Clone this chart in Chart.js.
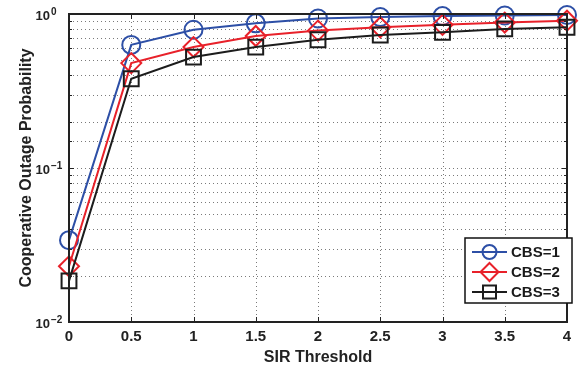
<!DOCTYPE html>
<html>
<head>
<meta charset="utf-8">
<script src="https://cdn.jsdelivr.net/npm/chart.js@4.4.1/dist/chart.umd.min.js"></script>
<style>
body { margin: 0; background: #fff; }
#wrap { width: 580px; height: 370px; }
</style>
</head>
<body>
<div id="wrap"><canvas id="myChart" width="580" height="370"></canvas></div>
<script>
// x axis: SIR threshold
const sirThreshold = [0, 0.5, 1, 1.5, 2, 2.5, 3, 3.5, 4];
// outage probability per number of cooperating BS
const cbs1 = [0.034, 0.63, 0.79, 0.87, 0.935, 0.955, 0.97, 0.978, 0.985];
const cbs2 = [0.023, 0.48, 0.61, 0.72, 0.78, 0.82, 0.85, 0.88, 0.905];
const cbs3 = [0.0185, 0.38, 0.525, 0.61, 0.68, 0.73, 0.76, 0.80, 0.82];
const seriesNames = ['CBS=1', 'CBS=2', 'CBS=3'];
// y axis decade labels
const yDecades = [0.01, 0.1, 1];
const yExponents = ['\u22122', '\u22121', '0'];

const FONT = '"Liberation Sans", Arial, Helvetica, sans-serif';
const blue = '#2d4fa6';
const red = '#e8212a';
const black = '#1c1c1c';

function pts(ys) {
    return sirThreshold.map(function(x, i){ return {x: x, y: ys[i]}; });
}

// dotted grid, drawn under the lines
const dottedGrid = {
    id: 'dottedGrid',
    beforeDatasetsDraw: function(chart){
        const ctx = chart.ctx;
        const a = chart.chartArea;
        const xs = chart.scales.x;
        const ys = chart.scales.y;
        ctx.save();
        ctx.strokeStyle = '#7a7a7a';
        ctx.lineWidth = 1;
        ctx.setLineDash([1, 3]);
        ctx.beginPath();
        xs.ticks.forEach(function(t){
            const px = Math.round(xs.getPixelForValue(t.value)) + 0.5;
            ctx.moveTo(px, a.top); ctx.lineTo(px, a.bottom);
        });
        ys.ticks.forEach(function(t){
            const py = Math.round(ys.getPixelForValue(t.value)) + 0.5;
            ctx.moveTo(a.left, py); ctx.lineTo(a.right, py);
        });
        ctx.stroke();
        ctx.restore();
    }
};

// box, inward ticks, y labels with exponents, legend
const matlabBits = {
    id: 'matlabBits',
    afterDraw: function(chart){
        const ctx = chart.ctx;
        const a = chart.chartArea;
        const xs = chart.scales.x;
        const ys = chart.scales.y;
        ctx.save();
        ctx.strokeStyle = '#222';
        ctx.lineWidth = 1;
        ctx.beginPath();
        sirThreshold.forEach(function(v){
            const px = Math.round(xs.getPixelForValue(v)) + 0.5;
            ctx.moveTo(px, a.bottom); ctx.lineTo(px, a.bottom - 5);
            ctx.moveTo(px, a.top); ctx.lineTo(px, a.top + 5);
        });
        ys.ticks.forEach(function(t){
            const py = Math.round(ys.getPixelForValue(t.value)) + 0.5;
            const len = yDecades.indexOf(t.value) >= 0 ? 5 : 3;
            ctx.moveTo(a.left, py); ctx.lineTo(a.left + len, py);
            ctx.moveTo(a.right, py); ctx.lineTo(a.right - len, py);
        });
        ctx.stroke();
        ctx.lineWidth = 2;
        ctx.strokeRect(a.left, a.top, a.right - a.left, a.bottom - a.top);

        // y tick labels as 10^n
        ctx.fillStyle = '#222';
        ctx.textBaseline = 'alphabetic';
        yDecades.forEach(function(v, i){
            const py = ys.getPixelForValue(v);
            ctx.font = 'bold 13px ' + FONT;
            ctx.textAlign = 'right';
            ctx.fillText('10', 50, py + 6);
            ctx.font = 'bold 10px ' + FONT;
            ctx.textAlign = 'left';
            ctx.fillText(yExponents[i], 51, py + 1);
        });

        // legend
        const lx = 465, ly = 238, lw = 107, lh = 65;
        ctx.fillStyle = '#fff';
        ctx.fillRect(lx, ly, lw, lh);
        ctx.lineWidth = 1.5;
        ctx.strokeStyle = '#111';
        ctx.strokeRect(lx, ly, lw, lh);
        const cols = [blue, red, black];
        cols.forEach(function(c, i){
            const cy = ly + 14 + i * 20;
            ctx.strokeStyle = c;
            ctx.lineWidth = 2;
            ctx.beginPath();
            ctx.moveTo(472, cy); ctx.lineTo(507, cy);
            ctx.stroke();
            ctx.beginPath();
            if (i === 0) {
                ctx.arc(489.5, cy, 7, 0, Math.PI * 2);
            } else if (i === 1) {
                ctx.moveTo(489.5, cy - 9); ctx.lineTo(498.5, cy);
                ctx.lineTo(489.5, cy + 9); ctx.lineTo(480.5, cy); ctx.closePath();
            } else {
                ctx.rect(483, cy - 6.5, 13, 13);
            }
            ctx.stroke();
            ctx.fillStyle = '#1a1a1a';
            ctx.font = 'bold 15px ' + FONT;
            ctx.textAlign = 'left';
            ctx.textBaseline = 'middle';
            ctx.fillText(seriesNames[i], 511, cy + 1);
        });
        ctx.restore();
    }
};

const ctx = document.getElementById('myChart').getContext('2d');
const myChart = new Chart(ctx, {
    type: 'line',
    data: {
        datasets: [{
            label: seriesNames[0],
            data: pts(cbs1),
            borderColor: blue,
            borderWidth: 2,
            pointStyle: 'circle',
            pointRadius: 9,
            pointBorderWidth: 2,
            pointBackgroundColor: 'rgba(0,0,0,0)',
            pointBorderColor: blue,
            order: 3
        }, {
            label: seriesNames[1],
            data: pts(cbs2),
            borderColor: red,
            borderWidth: 2,
            pointStyle: 'rectRot',
            pointRadius: 10,
            pointBorderWidth: 2,
            pointBackgroundColor: 'rgba(0,0,0,0)',
            pointBorderColor: red,
            order: 2
        }, {
            label: seriesNames[2],
            data: pts(cbs3),
            borderColor: black,
            borderWidth: 2,
            pointStyle: 'rect',
            pointRadius: 10.5,
            pointBorderWidth: 2,
            pointBackgroundColor: 'rgba(0,0,0,0)',
            pointBorderColor: black,
            order: 1
        }]
    },
    options: {
        responsive: false,
        animation: false,
        clip: false,
        layout: { padding: { top: 14, right: 13, left: 0, bottom: 0 } },
        plugins: { legend: { display: false }, tooltip: { enabled: false } },
        elements: { line: { tension: 0 } },
        scales: {
            x: {
                type: 'linear',
                min: 0, max: 4,
                afterFit: function(s){ s.height = 48; },
                ticks: {
                    stepSize: 0.5,
                    color: '#222',
                    padding: 6,
                    font: { family: FONT, size: 15, weight: 'bold' },
                    callback: function(v){ return String(v); }
                },
                grid: { display: true, drawOnChartArea: false, drawTicks: false, color: 'rgba(0,0,0,0)' },
                border: { display: false },
                title: {
                    display: true,
                    text: 'SIR Threshold',
                    color: '#222',
                    padding: { top: 0, bottom: 3 },
                    font: { family: FONT, size: 16, weight: 'bold' }
                }
            },
            y: {
                type: 'logarithmic',
                min: 0.01, max: 1,
                afterFit: function(s){ s.width = 69; },
                ticks: { display: false },
                grid: { display: true, drawOnChartArea: false, drawTicks: false, color: 'rgba(0,0,0,0)' },
                border: { display: false },
                title: {
                    display: true,
                    text: 'Cooperative Outage Probability',
                    color: '#222',
                    padding: { top: 17, bottom: 0 },
                    font: { family: FONT, size: 16, weight: 'bold' }
                }
            }
        }
    },
    plugins: [dottedGrid, matlabBits]
});
</script>
</body>
</html>
